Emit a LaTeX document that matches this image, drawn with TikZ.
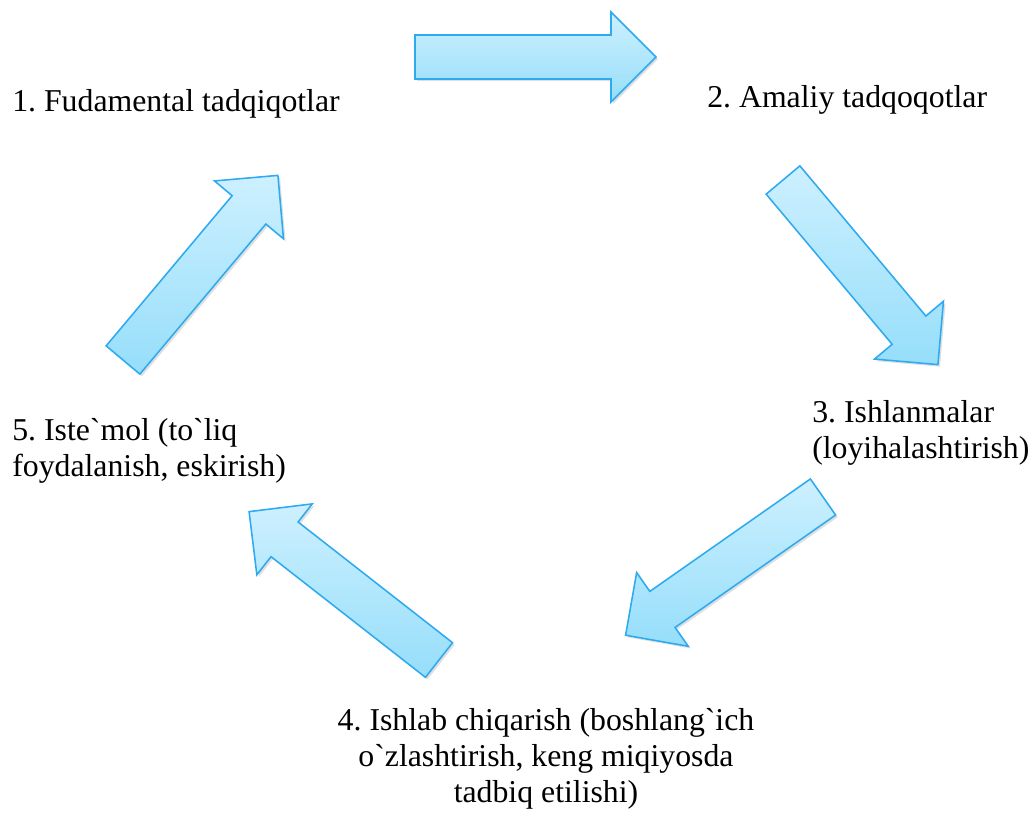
\documentclass[tikz,border=0pt]{standalone}
\usepackage{fontspec}
\setmainfont{Liberation Serif}[Ligatures=TeXOff]
\frenchspacing
\usetikzlibrary{shadows}
\definecolor{arrowline}{RGB}{45,170,240}
\definecolor{arrowtop}{RGB}{205,240,255}
\definecolor{arrowbot}{RGB}{150,222,250}
\begin{document}
\begin{tikzpicture}[x=0.025cm, y=-0.025cm,
  flow/.style={draw=arrowline, line width=1.1pt, top color=arrowtop, bottom color=arrowbot,
    drop shadow={shadow xshift=1.5pt, shadow yshift=-1.5pt, opacity=0.25}},
  stage/.style={inner sep=0pt, font=\fontsize{22.6}{25.6}\selectfont}]
  \useasboundingbox (0,0) rectangle (1031,814);
  % Stages of the cycle (multi-line nodes sit on their last baseline)
  \node[stage, anchor=base west] (fund) at (12,112) {1. Fudamental tadqiqotlar};
  \node[stage, anchor=base west] (amal) at (707,108) {2. Amaliy tadqoqotlar};
  \node[stage, anchor=base west, align=left] (ishl) at (812,458) {3. Ishlanmalar\\(loyihalashtirish)};
  \node[stage, anchor=base, align=center] (prod) at (546,802) {4. Ishlab chiqarish (boshlang`ich\\o`zlashtirish, keng miqiyosda\\tadbiq etilishi)};
  \node[stage, anchor=base west, align=left] (iste) at (12,476) {5. Iste`mol (to`liq\\foydalanish, eskirish)};

  % Block arrows: tail centre x / y / direction
  \foreach \cx/\cy/\ang in {415/57/0, 783/180/-50, 823/497/-145, 439/660/142, 123/360/50} {
    \draw[flow, shift={(\cx,\cy)}, rotate=\ang]
      (0,-22) -- (196,-22) -- (196,-45) -- (241,0) -- (196,45) -- (196,22) -- (0,22) -- cycle; % one arrow
  }
\end{tikzpicture}
\end{document}
